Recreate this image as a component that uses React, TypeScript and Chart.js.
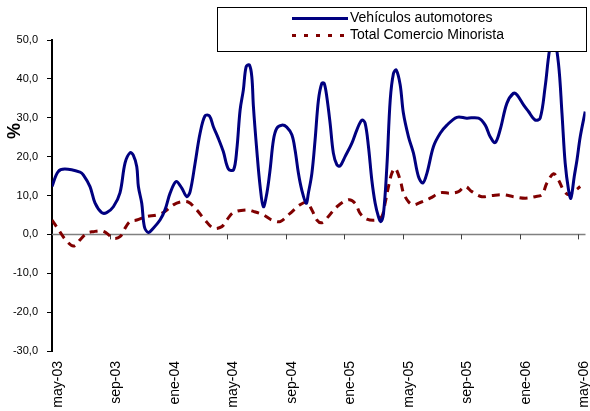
import React, { useEffect, useRef } from 'react';
import { Chart, registerables } from 'chart.js';

Chart.register(...registerables);

const FONT = 'Arial, "Liberation Sans", sans-serif';

// Tick labels along the time axis (months counted from may-03)
const tickLabels = ['may-03', 'sep-03', 'ene-04', 'may-04', 'sep-04', 'ene-05', 'may-05', 'sep-05', 'ene-06', 'may-06'];
const tickMonths = [0, 4, 8, 12, 16, 20, 24, 28, 32, 36];
const xMax = 36.5;

const seriesNames = ['Vehículos automotores', 'Total Comercio Minorista'];

// Vehículos automotores (% var.)
const vehMonths = [
  0.0, 0.41, 0.89, 1.92, 2.14, 2.6, 2.94, 3.4, 3.74, 4.2, 4.65, 5.0, 5.34, 5.56, 5.8, 5.91, 6.14, 6.32, 6.59, 6.93,
  7.39, 7.73, 8.08, 8.49, 8.88, 9.22, 9.45, 9.79, 10.13, 10.47, 10.77, 11.04, 11.38, 11.72, 12.07, 12.42, 12.64,
  12.87, 13.09, 13.28, 13.5, 13.67, 13.78, 14.01, 14.24, 14.46, 14.7, 14.92, 15.15, 15.38, 15.72, 16.06, 16.41,
  16.63, 16.86, 17.09, 17.39, 17.54, 17.78, 18.0, 18.23, 18.46, 18.62, 18.8, 19.03, 19.25, 19.49, 19.71, 20.05,
  20.51, 20.86, 21.2, 21.42, 21.65, 21.88, 22.11, 22.33, 22.5, 22.68, 22.91, 23.14, 23.36, 23.55, 23.82, 24.04,
  24.39, 24.73, 25.07, 25.37, 25.65, 26.1, 26.56, 27.02, 27.7, 28.38, 29.18, 29.64, 29.98, 30.32, 30.66, 31.12,
  31.57, 31.81, 32.26, 32.6, 33.06, 33.4, 33.74, 34.04, 34.31, 34.65, 34.89, 35.11, 35.34, 35.5, 35.73, 35.92,
  36.14, 36.48,
];
const vehValues = [
  12.3, 16.1, 16.8, 16.0, 15.3, 12.3, 8.1, 5.6, 5.6, 7.1, 10.7, 18.4, 21.0, 20.4, 17.4, 12.3, 8.0, 2.0, 0.5, 1.6,
  3.7, 6.3, 10.6, 13.6, 11.9, 9.7, 11.0, 18.3, 26.0, 30.5, 30.5, 27.7, 24.7, 21.3, 16.8, 16.6, 21.7,
  32.0, 37.1, 43.1, 43.6, 40.6, 32.9, 21.7, 12.3, 7.1, 10.6, 16.6, 24.3, 27.3, 28.1, 27.6, 25.6,
  21.7, 15.7, 11.4, 8.0, 10.6, 15.7, 24.3, 34.6, 38.9, 38.9, 35.4, 28.5, 20.9, 17.9, 17.6, 20.0,
  23.4, 26.9, 29.4, 28.6, 22.6, 14.0, 8.0, 4.6, 3.3, 5.4, 17.4, 34.6, 41.4, 42.3, 38.5, 31.2,
  25.1, 20.9, 14.9, 13.2, 15.7, 22.6, 26.0, 28.1, 30.1, 29.9, 29.9, 28.1, 25.1, 23.6, 26.9, 33.7,
  36.3, 35.9, 33.3, 31.6, 29.4, 29.9, 38.0, 47.4, 51.0, 44.0, 31.2, 18.3, 11.4, 9.3, 14.9, 19.2,
  25.1, 31.6,
];

// Total Comercio Minorista (% var.)
const comMonths = [
  0.0, 0.43, 0.89, 1.46, 1.92, 2.38, 2.83, 3.4, 3.74, 4.2, 4.65, 5.0, 5.34, 5.8, 6.48, 7.17, 7.73, 8.3, 8.88, 9.33,
  9.9, 10.47, 11.04, 11.62, 11.96, 12.41, 13.33, 13.78, 14.46, 15.04, 15.61, 16.29, 16.97, 17.43, 17.78, 18.12,
  18.46, 18.91, 19.49, 20.28, 20.74, 21.08, 21.54, 22.22, 22.57, 22.79, 23.02, 23.25, 23.48, 23.82, 24.05, 24.39,
  24.73, 25.19, 25.87, 26.56, 27.24, 27.81, 28.27, 28.73, 29.41, 30.1, 30.89, 31.57, 32.38, 33.06, 33.52, 33.86,
  34.31, 34.65, 34.99, 35.34, 35.69, 36.14,
];
const comValues = [
  3.7, 1.3, -1.2, -3.0, -1.4, 0.3, 0.7, 0.9, 0.3, -1.0, -0.6, 1.6, 3.3, 3.7, 4.6, 5.0, 5.9, 7.6, 8.4, 8.3,
  6.3, 3.7, 1.6, 2.0, 3.7, 5.6, 6.3, 5.9, 5.0, 3.7, 3.3, 5.4, 7.6, 8.2, 6.3, 3.7,
  3.0, 4.6, 7.1, 8.9, 8.0, 5.4, 3.9, 3.7, 4.6, 8.0, 12.3, 15.7, 17.0, 14.0, 10.6, 8.4,
  7.6, 8.2, 9.3, 10.7, 10.6, 11.0, 12.3, 11.0, 9.7, 10.0, 10.2, 9.7, 9.3, 9.7, 10.2, 13.2,
  15.6, 14.0, 11.4, 10.2, 11.0, 12.3,
];

const BLUE = '#000080';
const RED = '#800000';

const overlayPlugin = {
  id: 'overlay',
  beforeDatasetsDraw(chart: any) {
    const { ctx, chartArea, scales } = chart;
    const y0 = scales.y.getPixelForValue(0);
    ctx.save();
    ctx.strokeStyle = '#808080';
    ctx.lineWidth = 1.5;
    ctx.beginPath();
    ctx.moveTo(chartArea.left, y0);
    ctx.lineTo(chartArea.right, y0);
    ctx.stroke();
    ctx.strokeStyle = '#404040';
    ctx.lineWidth = 1;
    tickMonths.forEach((m) => {
      if (m === 0) return;
      const x = Math.round(scales.x.getPixelForValue(m)) + 0.5;
      ctx.beginPath();
      ctx.moveTo(x, y0);
      ctx.lineTo(x, y0 + 5);
      ctx.stroke();
    });
    ctx.restore();
  },
  afterDraw(chart: any) {
    const { ctx } = chart;
    ctx.save();
    // legend box
    ctx.fillStyle = '#ffffff';
    ctx.fillRect(217.5, 7.5, 369, 44);
    ctx.strokeStyle = '#000000';
    ctx.lineWidth = 1;
    ctx.strokeRect(217.5, 7.5, 369, 44);
    // sample lines
    ctx.lineWidth = 3;
    ctx.strokeStyle = BLUE;
    ctx.beginPath();
    ctx.moveTo(292, 18.5);
    ctx.lineTo(348, 18.5);
    ctx.stroke();
    ctx.strokeStyle = RED;
    ctx.setLineDash([4, 8]);
    ctx.beginPath();
    ctx.moveTo(292, 35.5);
    ctx.lineTo(348, 35.5);
    ctx.stroke();
    ctx.setLineDash([]);
    ctx.fillStyle = '#000000';
    ctx.font = `14px ${FONT}`;
    ctx.textAlign = 'left';
    ctx.textBaseline = 'middle';
    ctx.fillText(seriesNames[0], 350, 18);
    ctx.fillText(seriesNames[1], 350, 35);
    // y axis title
    ctx.translate(15, 131);
    ctx.rotate(-Math.PI / 2);
    ctx.font = `bold 18px ${FONT}`;
    ctx.textAlign = 'center';
    ctx.fillText('%', 0, 0);
    ctx.restore();
  },
};

export default function App() {
  const ref = useRef<HTMLCanvasElement>(null);

  useEffect(() => {
    if (!ref.current) return;
    const chart = new Chart(ref.current, {
      type: 'line',
      data: {
        datasets: [
          {
            label: seriesNames[0],
            data: vehMonths.map((m, i) => ({ x: m, y: vehValues[i] })),
            borderColor: BLUE,
            borderWidth: 3,
            pointRadius: 0,
            tension: 0.35,
            fill: false,
          },
          {
            label: seriesNames[1],
            data: comMonths.map((m, i) => ({ x: m, y: comValues[i] })),
            borderColor: RED,
            borderWidth: 3,
            borderDash: [8, 6],
            pointRadius: 0,
            tension: 0.35,
            fill: false,
          },
        ],
      },
      options: {
        responsive: false,
        animation: false,
        devicePixelRatio: 1,
        layout: { padding: { left: 0, right: 4.5, top: 40, bottom: 0 } },
        plugins: { legend: { display: false }, tooltip: { enabled: false } },
        scales: {
          x: {
            type: 'linear',
            min: 0,
            max: xMax,
            position: 'bottom',
            afterBuildTicks: (s: any) => {
              s.ticks = tickMonths.map((v) => ({ value: v }));
            },
            afterFit: (s: any) => {
              s.height = 60;
              s.paddingLeft = 0;
              s.paddingRight = 0;
            },
            grid: { display: false },
            border: { display: false },
            ticks: {
              autoSkip: false,
              minRotation: 90,
              maxRotation: 90,
              padding: 2,
              labelOffset: 6,
              color: '#000',
              font: { family: FONT, size: 14 },
              callback: (v: any) => {
                const i = tickMonths.indexOf(Number(v));
                return i >= 0 ? tickLabels[i] : '';
              },
            },
          },
          y: {
            min: -30,
            max: 50,
            afterFit: (s: any) => {
              s.width = 52;
              s.paddingTop = 0;
              s.paddingBottom = 0;
            },
            ticks: {
              stepSize: 10,
              padding: 9,
              color: '#000',
              font: { family: FONT, size: 11 },
              callback: (v: any) => Number(v).toFixed(1).replace('.', ','),
            },
            grid: { drawOnChartArea: false, drawTicks: true, tickLength: 5, color: '#000', lineWidth: 1 },
            border: { display: true, color: '#000', width: 2 },
          },
        },
      },
      plugins: [overlayPlugin],
    } as any);
    return () => chart.destroy();
  }, []);

  return (
    <div style={{ position: 'absolute', left: 0, top: 0, width: 590, height: 411, background: '#fff' }}>
      <canvas ref={ref} width={590} height={411} style={{ display: 'block' }} />
    </div>
  );
}
